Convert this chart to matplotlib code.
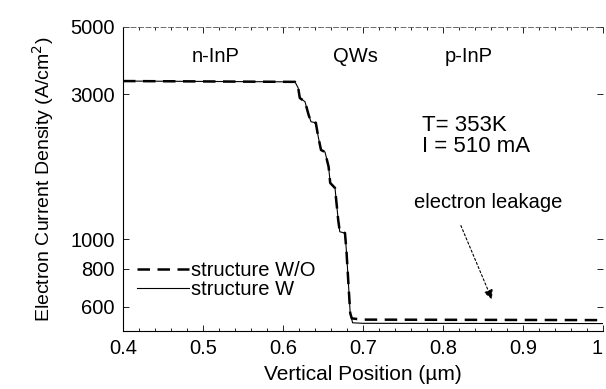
import matplotlib
matplotlib.use("Agg")
import matplotlib.pyplot as plt
from matplotlib.ticker import FixedLocator, NullLocator, MultipleLocator

plt.rcParams['font.family'] = ['Liberation Sans', 'DejaVu Sans']

# Data
x_wo = [0.40, 0.615, 0.619, 0.621, 0.6275, 0.632, 0.635, 0.641, 0.644, 0.6475,
        0.6525, 0.657, 0.659, 0.665, 0.669, 0.671, 0.6775, 0.6795, 0.684, 0.686, 0.70, 1.0]
y_wo = [3320, 3300, 3150, 2920, 2840, 2570, 2440, 2420, 2180, 1970,
        1940, 1735, 1535, 1477, 1160, 1060, 1050, 900, 573, 550, 545, 543]

x_w = [0.40, 0.615, 0.619, 0.621, 0.6275, 0.632, 0.635, 0.641, 0.644, 0.6475,
       0.6525, 0.657, 0.659, 0.665, 0.669, 0.671, 0.6775, 0.6795, 0.684, 0.687, 0.70, 1.0]
y_w = [3320, 3300, 3150, 2920, 2840, 2570, 2440, 2420, 2180, 1970,
       1940, 1735, 1535, 1477, 1160, 1060, 1050, 900, 573, 532, 530, 529]

x_ticks = [0.4, 0.5, 0.6, 0.7, 0.8, 0.9, 1.0]
x_ticklabels = ["0.4", "0.5", "0.6", "0.7", "0.8", "0.9", "1"]
y_ticks = [600, 800, 1000, 3000, 5000]
y_ticklabels = ["600", "800", "1000", "3000", "5000"]

region_labels = ["n-InP", "QWs", "p-InP"]
region_x = [0.516, 0.69, 0.8325]
region_y = 3990

FS = 14.5

fig = plt.figure(figsize=(6.06, 3.89), dpi=100)
ax = fig.add_axes([123/606, 1 - 331/389, (603 - 123)/606, (331 - 27)/389])

ax.plot(x_w, y_w, color='black', lw=0.8, linestyle='-', label='structure W')
ax.plot(x_wo, y_wo, color='black', lw=1.8, linestyle=(0, (5, 3)), label='structure W/O')

ax.set_yscale('log')
ax.set_xlim(0.4, 1.0)
ax.set_ylim(500, 5000)

ax.yaxis.set_major_locator(FixedLocator(y_ticks))
ax.yaxis.set_minor_locator(NullLocator())
ax.set_yticklabels(y_ticklabels)
ax.set_xticks(x_ticks)
ax.set_xticklabels(x_ticklabels)
ax.xaxis.set_minor_locator(MultipleLocator(0.02))

ax.tick_params(axis='both', which='both', direction='in', labelsize=FS,
               top=True, right=True, width=0.6)
ax.tick_params(axis='both', which='major', length=4, pad=6)
ax.tick_params(axis='both', which='minor', length=2)
# keep the last x tick label inside the figure
ax.get_xticklabels()[-1].set_horizontalalignment('right')

for s in ['left', 'bottom']:
    ax.spines[s].set_linewidth(0.8)
ax.spines['top'].set_linestyle((0, (6, 3)))
ax.spines['top'].set_color('#555555')
ax.spines['top'].set_linewidth(0.6)
ax.spines['right'].set_visible(False)

ax.set_xlabel('Vertical Position (\u00b5m)', fontsize=FS + 0.5, labelpad=5)
ax.set_ylabel('Electron Current Density (A/cm$^2$)', fontsize=14, labelpad=10)

for lbl, xx in zip(region_labels, region_x):
    ax.text(xx, region_y, lbl, ha='center', va='center', fontsize=FS)

ax.text(0.774, 2380, 'T= 353K', ha='left', va='center', fontsize=16)
ax.text(0.774, 2015, 'I = 510 mA', ha='left', va='center', fontsize=16)

ax.text(0.856, 1328, 'electron leakage', ha='center', va='center', fontsize=FS)
ax.annotate('', xy=(0.8625, 623), xytext=(0.821, 1133),
            arrowprops=dict(arrowstyle='-|>', color='black', lw=0.8,
                            linestyle=(0, (2, 2)), mutation_scale=14))

handles, labels = ax.get_legend_handles_labels()
leg = ax.legend(handles[::-1], labels[::-1], loc='lower left',
                bbox_to_anchor=(0.0, 0.06), frameon=False, fontsize=FS,
                handlelength=2.6, handletextpad=0.1, labelspacing=0.0,
                borderpad=0.2)

fig.savefig('out.png', dpi=100)
